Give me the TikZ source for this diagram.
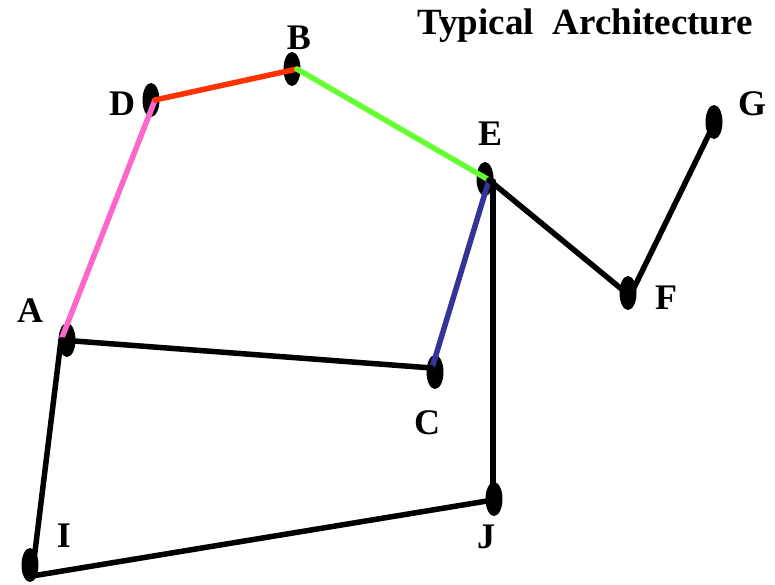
\documentclass[tikz,border=0pt]{standalone}
\usepackage{fontspec}
\setmainfont{Liberation Serif}
\usetikzlibrary{shapes.geometric,calc}
\definecolor{pinkc}{HTML}{FF66CC}
\definecolor{orangec}{HTML}{FF3300}
\definecolor{greenc}{HTML}{66FF33}
\definecolor{bluec}{HTML}{333399}
\begin{document}
\begin{tikzpicture}[x=1pt,y=-1pt,
  dot/.style={ellipse,fill=black,draw=none,minimum width=17pt,minimum height=34pt,inner sep=0pt},
  lbl/.style={font=\fontsize{36}{40}\selectfont\bfseries,anchor=base,inner sep=0pt},
  wire/.style={line width=5.5pt,line cap=round}]
\useasboundingbox[fill=white] (0,0) rectangle (775,584);
% nodes
\node[dot] (A) at (67,340) {};
\node[dot] (B) at (292,69) {};
\node[dot] (C) at (435,372) {};
\node[dot] (D) at (151,100) {};
\node[dot] (E) at (485,179) {};
\node[dot] (F) at (628,293) {};
\node[dot] (G) at (714,122) {};
\node[dot] (I) at (30,565) {};
\node[dot] (J) at (494,499) {};
% attach points
\coordinate (Ap) at ($(A)+(-6,0)$);
\coordinate (Bp) at ($(B)+(5,0)$);
\coordinate (Cp) at ($(C)+(-3,-4)$);
\coordinate (Dp) at ($(D)+(4,0)$);
\coordinate (Ep) at ($(E)+(4,1)$);
\coordinate (Ev) at ($(E)+(8,2)$);
\coordinate (Fp) at ($(F)+(2,3)$);
\coordinate (Gp) at ($(G)+(-2,6)$);
\coordinate (Ip) at ($(I)+(2,11)$);
\coordinate (Jp) at ($(J)+(-1,1)$);
% connectors
\draw[wire,pinkc] (Dp) -- (Ap);
\draw[wire,orangec] (Dp) -- (Bp);
\draw[wire,greenc] (Bp) -- (Ep);
\draw[wire,bluec] (Ep) -- (Cp);
\draw[wire] (Ep) -- (Fp);
\draw[wire] (Fp) -- (Gp);
\draw[wire] (Ev) -- (Ev |- J);
\draw[wire] (Ap) -- (Cp);
\draw[wire] (Ap) -- (Ip);
\draw[wire] (Ip) -- (Jp);
% labels
\node[lbl] (tA) at (30,322) {A};
\node[lbl] (tB) at (299,49) {B};
\node[lbl] (tC) at (427,434) {C};
\node[lbl] (tD) at (122,115) {D};
\node[lbl] (tE) at (490,145) {E};
\node[lbl] (tF) at (666,309) {F};
\node[lbl] (tG) at (752,115) {G};
\node[lbl] (tI) at (64,547) {I};
\node[lbl] (tJ) at (486,548) {J};
\node[lbl,font=\fontsize{37}{40}\selectfont\bfseries] (title) at (585,34) {Typical\ \ Architecture};
\end{tikzpicture}
\end{document}
